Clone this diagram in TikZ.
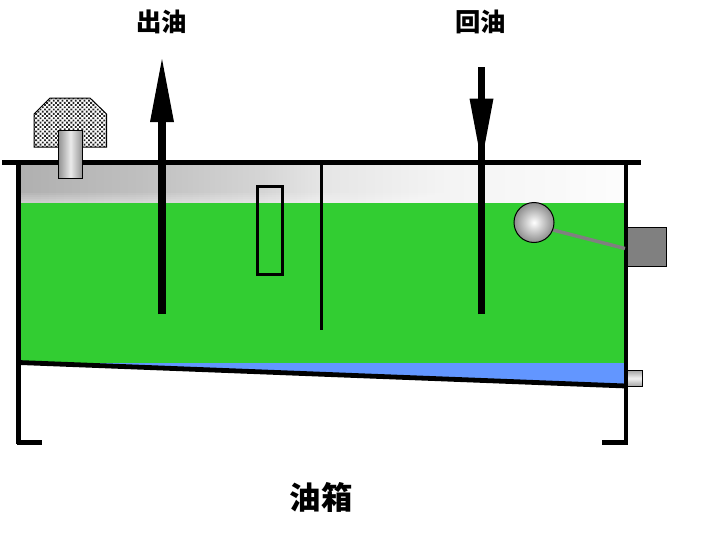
\documentclass[tikz,border=0pt]{standalone}
\usepackage{fontspec}
\newfontfamily\cjk{Noto Sans CJK SC}
\usetikzlibrary{patterns}
\pgfdeclarepatternformonly{stipple}{\pgfqpoint{-0.5pt}{-0.5pt}}{\pgfqpoint{4pt}{4pt}}{\pgfqpoint{3.3pt}{3.3pt}}{%
  \pgfpathrectangle{\pgfqpoint{0pt}{0pt}}{\pgfqpoint{1.4pt}{1.4pt}}%
  \pgfpathrectangle{\pgfqpoint{1.65pt}{1.65pt}}{\pgfqpoint{1.4pt}{1.4pt}}%
  \pgfusepath{fill}}
\pgfdeclarehorizontalshading{airgrad}{100bp}{
  color(0bp)=(gray!62!white);
  color(25bp)=(gray!62!white);
  color(35bp)=(gray!50!white);
  color(45bp)=(gray!33!white);
  color(50bp)=(gray!20!white);
  color(60bp)=(gray!9!white);
  color(75bp)=(gray!2!white);
  color(100bp)=(white)}
\definecolor{oilgreen}{RGB}{50,205,50}
\definecolor{waterblue}{RGB}{98,150,255}
\definecolor{midgray}{RGB}{128,128,128}
\tikzset{
  wall/.style={line width=3.2pt,line cap=butt},
  pipe/.style={line width=5.4pt,line cap=butt},
  label/.style={text=black,inner sep=0pt},
}
\begin{document}
\begin{tikzpicture}[x=0.75pt,y=-0.75pt]
\useasboundingbox (0,0) rectangle (701,546);
\fill[white] (0,0) rectangle (701,546);
% air space and liquids
\shade[shading=airgrad] (20,164) rectangle (625,203);
\foreach \yy in {193,195,197,199,201}{\fill[white,opacity=0.09] (20,\yy) rectangle (625,203);}
\fill[oilgreen] (20,203) -- (625,203) -- (625,386) -- (20,363) -- cycle;
\fill[waterblue] (20,363) -- (625,363) -- (625,386) -- cycle;
% tank
\draw[wall,line width=3.6pt] (18.5,362.5) -- (626,386);
\draw[wall] (18.5,160) -- (18.5,444);
\draw[wall] (626,160) -- (626,444);
\draw[wall] (17,442.5) -- (42,442.5);
\draw[wall] (602,442.5) -- (628,442.5);
\draw[wall] (2,162.6) -- (641,162.6);
\draw[line width=2.8pt] (321.5,162) -- (321.5,330);
\draw[line width=2.4pt] (257.5,186.5) rectangle (282.5,274.5);
% breather
\path[pattern=stipple,pattern color=black!85] (50,98) -- (90,98) -- (106.5,114) -- (106.5,147) -- (34,147) -- (34,114) -- cycle;
\draw[line width=0.75pt] (50,98) -- (90,98) -- (106.5,114) -- (106.5,147) -- (34,147) -- (34,114) -- cycle;
\shade[draw=black,line width=0.75pt,left color=gray!85,right color=gray!85,middle color=white!92!black] (58.5,130.5) rectangle (82.5,178);
% outlet pipe
\draw[pipe] (162,314) -- (162,120);
\fill (162,59) -- (174,122) -- (150,122) -- cycle;
% return pipe
\draw[pipe] (481.5,314) -- (481.5,67);
\fill (469.5,98.5) -- (493.5,98.5) -- (481.5,162) -- cycle;
% float level switch
\draw[midgray,line width=2.6pt] (553,230) -- (625,248.5);
\shade[draw=black,line width=0.75pt,inner color=white,outer color=gray!90] (534,222.5) circle[radius=20];
\draw[black,line width=0.75pt,fill=midgray] (627,227) rectangle (666.5,266.5);
% drain plug
\shade[draw=black,line width=0.5pt,top color=gray!70,bottom color=gray!70,middle color=white!95!black] (627,370.5) rectangle (642.5,386);
% labels
\node[label,font=\cjk\bfseries\fontsize{19pt}{19pt}\selectfont] (outlbl) at (162,22) {出油};
\node[label,font=\cjk\bfseries\fontsize{19pt}{19pt}\selectfont] (retlbl) at (480.5,22) {回油};
\node[label,font=\cjk\bfseries\fontsize{23.5pt}{23.5pt}\selectfont] (tanklbl) at (321,497.5) {油箱};
\end{tikzpicture}
\end{document}
